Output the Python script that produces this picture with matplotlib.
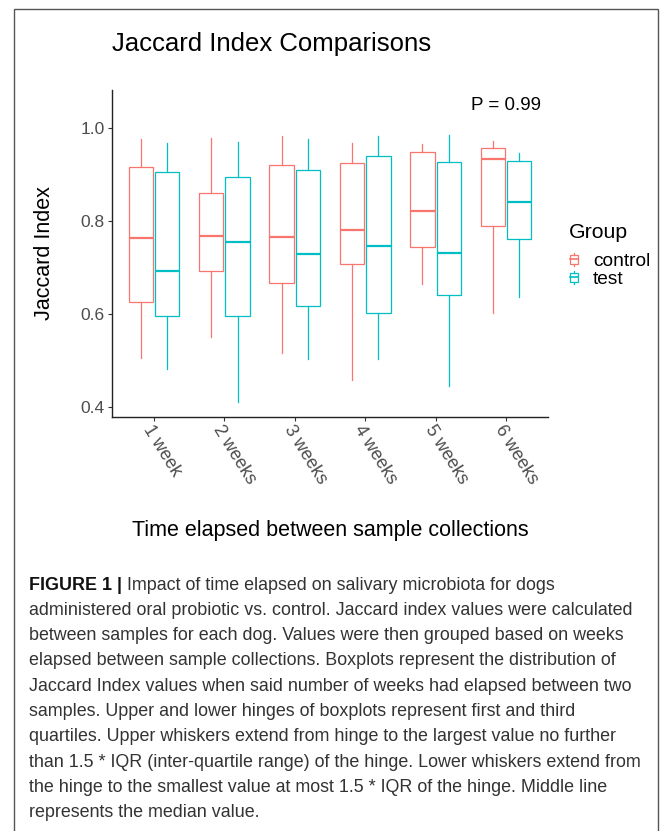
import numpy as np
import matplotlib
matplotlib.use("Agg")
import matplotlib.pyplot as plt
from matplotlib.patches import Patch, Rectangle
from matplotlib.lines import Line2D
from matplotlib.legend_handler import HandlerBase

# values (whisker ends, hinges, medians)
weeks = ["1 week", "2 weeks", "3 weeks", "4 weeks", "5 weeks", "6 weeks"]
ctrl_low = [0.505, 0.551, 0.516, 0.459, 0.665, 0.602]
ctrl_q1 = [0.627, 0.692, 0.667, 0.707, 0.745, 0.790]
ctrl_med = [0.763, 0.767, 0.766, 0.780, 0.822, 0.932]
ctrl_q3 = [0.916, 0.859, 0.920, 0.925, 0.949, 0.956]
ctrl_high = [0.975, 0.977, 0.983, 0.968, 0.965, 0.972]
test_low = [0.483, 0.411, 0.504, 0.503, 0.446, 0.636]
test_q1 = [0.597, 0.597, 0.617, 0.602, 0.641, 0.762]
test_med = [0.692, 0.754, 0.730, 0.747, 0.732, 0.840]
test_q3 = [0.904, 0.894, 0.909, 0.939, 0.926, 0.928]
test_high = [0.968, 0.970, 0.975, 0.982, 0.984, 0.946]
groups = ["control", "test"]
p_label = "P = 0.99"

caption = [
    "Impact of time elapsed on salivary microbiota for dogs",
    "administered oral probiotic vs. control. Jaccard index values were calculated",
    "between samples for each dog. Values were then grouped based on weeks",
    "elapsed between sample collections. Boxplots represent the distribution of",
    "Jaccard Index values when said number of weeks had elapsed between two",
    "samples. Upper and lower hinges of boxplots represent first and third",
    "quartiles. Upper whiskers extend from hinge to the largest value no further",
    "than 1.5 * IQR (inter-quartile range) of the hinge. Lower whiskers extend from",
    "the hinge to the smallest value at most 1.5 * IQR of the hinge. Middle line",
    "represents the median value.",
]

RED = "#F8766D"
CYAN = "#00BFC4"

plt.rcParams["font.family"] = ["Liberation Sans", "DejaVu Sans"]
cap_size = 12.9

W, H = 670, 831
fig = plt.figure(figsize=(W / 100, H / 100), dpi=100)
ax = fig.add_axes([111.7 / W, 1 - 416.7 / H, (548.3 - 111.7) / W, (416.7 - 90) / H])


def stats(low, q1, med, q3, high):
    return [dict(whislo=a, q1=b, med=c, q3=d, whishi=e, fliers=[])
            for a, b, c, d, e in zip(low, q1, med, q3, high)]


x = np.arange(1, len(weeks) + 1)
for st, off, col in [(stats(ctrl_low, ctrl_q1, ctrl_med, ctrl_q3, ctrl_high), -0.1875, RED),
                     (stats(test_low, test_q1, test_med, test_q3, test_high), 0.1875, CYAN)]:
    ax.bxp(st, positions=x + off, widths=0.345, showcaps=False, showfliers=False,
           patch_artist=True, manage_ticks=False,
           boxprops=dict(facecolor="white", edgecolor=col, linewidth=0.9),
           whiskerprops=dict(color=col, linewidth=0.9),
           medianprops=dict(color=col, linewidth=1.6, solid_capstyle="butt"))

ax.set_xlim(0.4, 6.6)
ax.set_ylim(0.380, 1.081)
ax.set_yticks([0.4, 0.6, 0.8, 1.0])
ax.set_yticklabels(["0.4", "0.6", "0.8", "1.0"])
ax.set_xticks(x)
ax.set_xticklabels(weeks, rotation=-58, ha="left", va="top", rotation_mode="anchor")
ax.tick_params(axis="y", labelsize=12.5, labelcolor="#4D4D4D", color="#333333", length=3, width=0.8, pad=2)
ax.tick_params(axis="x", labelsize=13, labelcolor="#4D4D4D", color="#333333", length=3, width=0.8, pad=1)
for s in ["top", "right"]:
    ax.spines[s].set_visible(False)
for s in ["left", "bottom"]:
    ax.spines[s].set_linewidth(1.0)
    ax.spines[s].set_color("#222222")

ax.set_ylabel("Jaccard Index", fontsize=15.5, va="center")
ax.yaxis.set_label_coords(-0.153, 0.5)
ax.set_xlabel("Time elapsed between sample collections", fontsize=15.5, va="center")
ax.xaxis.set_label_coords(0.5, -0.347)
ax.set_title("Jaccard Index Comparisons", fontsize=18.5, loc="left", x=0.0, y=1.142, va="center", pad=0)
ax.text(6, 1.047, p_label, fontsize=13.5, ha="center", va="center")


class BoxKey(HandlerBase):
    def create_artists(self, legend, orig_handle, xdescent, ydescent, width, height, fontsize, trans):
        col = orig_handle.get_edgecolor()
        cx = width / 2 - xdescent
        cy = height / 2 - ydescent
        bw, bh, wh = 6.0, 6.4, 4.9
        box = Rectangle((cx - bw / 2, cy - bh / 2), bw, bh, facecolor="white", edgecolor=col,
                        linewidth=0.9, transform=trans)
        top = Line2D([cx, cx], [cy + bh / 2, cy + wh], color=col, linewidth=0.9, transform=trans)
        bot = Line2D([cx, cx], [cy - bh / 2, cy - wh], color=col, linewidth=0.9, transform=trans)
        mid = Line2D([cx - bw / 2, cx + bw / 2], [cy, cy], color=col, linewidth=1.2, transform=trans)
        return [box, top, bot, mid]


handles = [Patch(edgecolor=RED, facecolor="white"), Patch(edgecolor=CYAN, facecolor="white")]
fig.text(569 / W, 1 - 232 / H, "Group", fontsize=15.3, ha="left", va="center")
leg = fig.legend(handles, groups, handler_map={Patch: BoxKey()},
                 loc="upper left", bbox_to_anchor=(567 / W, 1 - 252 / H), frameon=False,
                 fontsize=13.8, handlelength=0.75, handleheight=0.8,
                 handletextpad=0.6, labelspacing=0.0, borderpad=0, borderaxespad=0)

# caption below the chart
y0, dy, xl = 585, 25.3, 28.7
bold = fig.text(xl / W, 1 - y0 / H, "FIGURE 1 | ", fontsize=cap_size,
                fontweight="bold", color="#111111", va="center", ha="left")
ax.annotate(caption[0], xy=(1, 0.5), xycoords=bold, va="center", ha="left",
            fontsize=cap_size, color="#333333", annotation_clip=False)
for i, line in enumerate(caption[1:], start=1):
    fig.text(xl / W, 1 - (y0 + i * dy) / H, line, fontsize=cap_size,
             color="#333333", va="center", ha="left")

# thin frame round the figure panel
fig.patches.append(Rectangle((14 / W, -0.01), (658 - 14) / W, (1 - 9 / H) + 0.01,
                             transform=fig.transFigure, fill=False, edgecolor="#555555",
                             linewidth=1.0))

fig.savefig("out.png", dpi=100)
